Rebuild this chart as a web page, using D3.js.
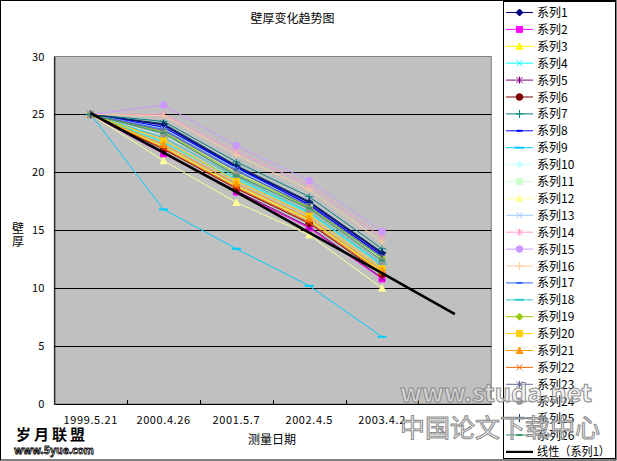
<!DOCTYPE html>
<html><head><meta charset="utf-8">
<script src="https://cdn.jsdelivr.net/npm/d3@7/dist/d3.min.js"></script>
<style>body{margin:0;background:#fff}svg{display:block}text{font-family:"Noto Sans CJK SC","Noto Sans",sans-serif}</style>
</head><body>
<script>
// ---- data ----
const categories = ["1999.5.21","2000.4.26","2001.5.7","2002.4.5","2003.4.2",""];
const yTicks = [0,5,10,15,20,25,30];
const seriesNames = ["系列1","系列2","系列3","系列4","系列5","系列6","系列7","系列8","系列9","系列10","系列11","系列12","系列13","系列14","系列15","系列16","系列17","系列18","系列19","系列20","系列21","系列22","系列23","系列24","系列25","系列26"];
const s1  = [25, 24.1, 20.5, 17.4, 13.0];
const s2  = [25, 21.6, 18.3, 15.2, 10.8];
const s3  = [25, 22.2, 18.8, 15.9, 11.4];
const s4  = [25, 22.6, 19.4, 16.5, 12.0];
const s5  = [25, 21.7, 18.4, 15.3, 10.9];
const s6  = [25, 22.0, 18.6, 15.6, 11.2];
const s7  = [25, 24.4, 20.9, 17.9, 13.4];
const s8  = [25, 23.9, 20.4, 17.2, 12.8];
const s9  = [25, 16.8, 13.4, 10.2, 5.8];
const s10 = [25, 23.2, 19.9, 16.8, 12.4];
const s11 = [25, 23.5, 20.0, 17.0, 12.5];
const s12 = [25, 21.0, 17.4, 14.6, 10.0];
const s13 = [25, 23.8, 20.3, 17.1, 12.7];
const s14 = [25, 25.0, 21.8, 18.9, 14.4];
const s15 = [25, 25.8, 22.3, 19.3, 14.9];
const s16 = [25, 24.9, 21.5, 18.5, 14.0];
const s17 = [25, 23.7, 20.2, 17.0, 12.6];
const s18 = [25, 23.0, 19.6, 16.6, 12.1];
const s19 = [25, 23.5, 19.9, 17.0, 12.6];
const s20 = [25, 22.8, 19.25, 16.3, 11.7];
const s21 = [25, 22.4, 19.0, 16.0, 11.5];
const s22 = [25, 22.1, 18.7, 15.7, 11.3];
const s23 = [25, 23.6, 20.1, 17.1, 12.7];
const s24 = [25, 23.3, 19.8, 16.8, 12.3];
const s25 = [25, 24.2, 20.6, 17.5, 13.1];
const s26 = [25, 23.4, 19.7, 16.9, 12.4];
const trendValues = [25.1, 21.7, 18.3, 14.8, 11.3, 7.75];
const trendName = "线性（系列1）";
const seriesValues = [s1,s2,s3,s4,s5,s6,s7,s8,s9,s10,s11,s12,s13,s14,s15,s16,s17,s18,s19,s20,s21,s22,s23,s24,s25,s26];

// ---- styles ----
const colors = ["#000080","#FF00FF","#FFFF00","#00FFFF","#800080","#800000","#008080","#0000FF","#00CCFF","#CCFFFF","#CCFFCC","#FFFF99","#99CCFF","#FF99CC","#CC99FF","#FFCC99","#3366FF","#33CCCC","#99CC00","#FFCC00","#FF9900","#FF6600","#666699","#969696","#003366","#339966"];
const markerTypes = ["diamond","square","triangle","x","star","circle","plus","dash","longdash"];

const W = 617, H = 461;
const svg = d3.select("body").append("svg").attr("width", W).attr("height", H);

const plot = {l:54.3, r:491.3, t:56.5, b:404};
const x = d3.scaleBand().domain(categories.map((c,i)=>i)).range([plot.l, plot.r]).padding(0);
const cx = i => x(i) + x.bandwidth()/2;
const y = d3.scaleLinear().domain([0,30]).range([plot.b, plot.t]);

// outer border
svg.append("rect").attr("x",0.5).attr("y",0.5).attr("width",W-1.5).attr("height",H-1.5).attr("fill","#fff").attr("stroke","#000");

// plot area
svg.append("rect").attr("x",plot.l).attr("y",plot.t).attr("width",plot.r-plot.l).attr("height",plot.b-plot.t)
  .attr("fill","#C0C0C0").attr("stroke","#808080");

// gridlines
svg.append("g").selectAll("line").data(yTicks.filter(v=>v>0&&v<30)).join("line")
  .attr("x1",plot.l).attr("x2",plot.r).attr("y1",d=>Math.round(y(d))+0.5).attr("y2",d=>Math.round(y(d))+0.5)
  .attr("stroke","#000").attr("stroke-width",1);

// y axis
const yAxis = d3.axisLeft(y).tickValues(yTicks).tickSize(0).tickPadding(10);
const gy = svg.append("g").attr("transform",`translate(${plot.l},0)`).call(yAxis);
gy.select(".domain").attr("stroke","#000");
gy.selectAll("text").attr("font-size",11).attr("fill","#000");

// x axis
const xAxis = d3.axisBottom(x).tickSize(0).tickPadding(12).tickFormat(i=>categories[i]);
const gx = svg.append("g").attr("transform",`translate(0,${plot.b})`).call(xAxis);
gx.select(".domain").attr("stroke","#000");
gx.selectAll("text").attr("font-size",11).attr("fill","#000").attr("letter-spacing","0.6");
// inside tick marks at category boundaries
svg.append("g").selectAll("line").data(categories.slice(1).map((c,i)=>i+1)).join("line")
  .attr("x1",i=>Math.round(x(i))+0.5).attr("x2",i=>Math.round(x(i))+0.5)
  .attr("y1",plot.b).attr("y2",plot.b-4).attr("stroke","#000");

// marker drawer
function drawMarker(g, type, color){
  const s = {
    diamond:{d:"M0,-3.5L3.5,0L0,3.5L-3.5,0Z",fill:true},
    square:{d:"M-3,-3H3V3H-3Z",fill:true},
    triangle:{d:"M0,-3.5L3.5,3L-3.5,3Z",fill:true},
    x:{d:"M-3,-3L3,3M-3,3L3,-3",fill:false},
    star:{d:"M-3,-3L3,3M-3,3L3,-3M0,-3.5V3.5",fill:false},
    circle:{d:"M3.3,0A3.3,3.3,0,1,1,-3.3,0A3.3,3.3,0,1,1,3.3,0Z",fill:true},
    plus:{d:"M-4,0H4M0,-4V4",fill:false},
    dash:{d:"M-3,0H3",fill:false,w:2},
    longdash:{d:"M-4.5,0H4.5",fill:false,w:2}
  }[type];
  g.append("path").attr("d",s.d).attr("fill",s.fill?color:"none").attr("stroke",color).attr("stroke-width",s.w||1);
}

const line = d3.line().x((d,i)=>cx(i)).y(d=>y(d));

// series
seriesValues.forEach((vals,k)=>{
  const col = colors[k];
  svg.append("path").datum(vals).attr("d",line).attr("fill","none").attr("stroke",col)
    .attr("stroke-width", (k===0||k===7)?1.5:1);
  vals.forEach((v,i)=>{
    const g = svg.append("g").attr("transform",`translate(${cx(i)},${y(v)})`);
    drawMarker(g, markerTypes[k%9], col);
  });
});

// trendline
svg.append("path").datum(trendValues).attr("d",line).attr("fill","none").attr("stroke","#000").attr("stroke-width",2.6);

// title
svg.append("text").attr("x",292.5).attr("y",23).attr("text-anchor","middle").attr("font-size",12).text("壁厚变化趋势图");
// axis titles
const yt = svg.append("text").attr("x",18).attr("text-anchor","middle").attr("font-size",12);
yt.append("tspan").attr("x",18).attr("y",233).text("壁");
yt.append("tspan").attr("x",18).attr("y",246).text("厚");
svg.append("text").attr("x",272).attr("y",444).attr("text-anchor","middle").attr("font-size",12).text("测量日期");

// legend
const leg = svg.append("g");
leg.append("rect").attr("x",503.5).attr("y",1.5).attr("width",112).attr("height",457).attr("fill","#fff").attr("stroke","#000");
const legendY = i => 12.5 + 16.9*i;
seriesNames.forEach((n,k)=>{
  const yy = legendY(k);
  leg.append("line").attr("x1",506).attr("x2",533).attr("y1",yy).attr("y2",yy).attr("stroke",colors[k]);
  const g = leg.append("g").attr("transform",`translate(519.5,${yy})`);
  drawMarker(g, markerTypes[k%9], colors[k]);
  leg.append("text").attr("x",537).attr("y",yy+4.5).attr("font-size",12).text(n);
});
{
  const yy = legendY(26);
  leg.append("line").attr("x1",506).attr("x2",533).attr("y1",yy).attr("y2",yy).attr("stroke","#000").attr("stroke-width",2.2);
  leg.append("text").attr("x",537).attr("y",yy+4.5).attr("font-size",12)
    .attr("textLength",73).attr("lengthAdjust","spacingAndGlyphs").text(trendName);
}

// watermarks
svg.append("text").attr("x",16).attr("y",440).attr("font-size",15).attr("font-weight","bold").attr("letter-spacing","3").text("岁月联盟");
svg.append("text").attr("x",14).attr("y",454).attr("font-size",10.5).attr("font-weight","bold")
  .attr("fill","#fff").attr("stroke","#000").attr("stroke-width",0.8).text("www.5yue.com");
svg.append("text").attr("x",400).attr("y",402).attr("font-size",25).attr("font-weight","bold").attr("font-family","DejaVu Sans")
  .attr("textLength",192).attr("lengthAdjust","spacingAndGlyphs")
  .attr("fill","#eeeeee").attr("fill-opacity",0.55).attr("stroke","#8c8c8c").attr("stroke-width",1).text("www.studa.net");
svg.append("text").attr("x",400).attr("y",437).attr("font-size",25)
  .attr("textLength",200).attr("lengthAdjust","spacingAndGlyphs")
  .attr("fill","#eeeeee").attr("fill-opacity",0.55).attr("stroke","#8c8c8c").attr("stroke-width",1).text("中国论文下载中心");
</script>
</body></html>
